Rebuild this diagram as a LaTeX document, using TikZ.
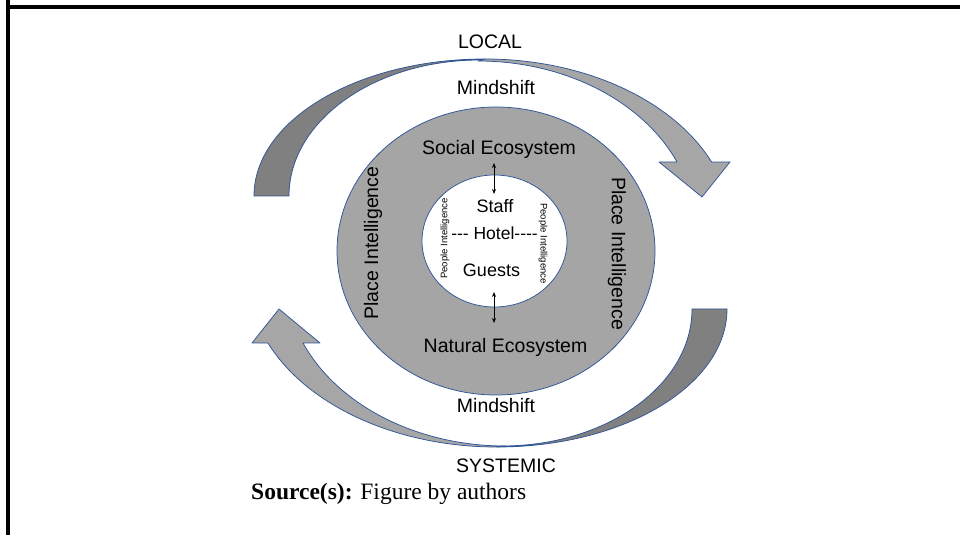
\documentclass[tikz,border=0pt]{standalone}
\usepackage{fontspec}
\setmainfont{Liberation Sans}
\newfontfamily\srcfont{Liberation Serif}
\usetikzlibrary{arrows.meta,shapes.geometric}
\definecolor{lightg}{HTML}{A6A6A6}
\definecolor{darkg}{HTML}{808080}
\definecolor{ringg}{HTML}{A5A5A5}
\definecolor{edgeblue}{RGB}{47,85,151}
\tikzset{
  shapeedge/.style={draw=edgeblue, line width=0.75pt, line join=round},
  biglabel/.style={font=\fontsize{19.5}{22}\selectfont, inner sep=0pt},
  innerlabel/.style={font=\fontsize{18}{21}\selectfont, inner sep=0pt},
  smalllabel/.style={font=\fontsize{9.5}{11}\selectfont, inner sep=0pt},
  dblarrow/.style={line width=1pt, {Stealth[length=5pt,width=4pt]}-{Stealth[length=5pt,width=4pt]}}
}
\begin{document}
\begin{tikzpicture}[x=1pt,y=1pt]
\useasboundingbox (0,0) rectangle (960,535);
% frame
\draw[line width=4pt] (8,535) -- (8,528) -- (960,528);
\draw[line width=4pt] (8,530) -- (8,0);

% top curved arrow (LOCAL)
\path[shapeedge, fill=darkg] (254,339) arc[start angle=180, end angle=90, x radius=231, y radius=137]
  -- (480,475) arc[start angle=90, end angle=180, x radius=191, y radius=136] -- cycle;
\path[shapeedge, fill=lightg] (485,476) arc[start angle=90, end angle=23.43, x radius=247, y radius=171]
  -- (730,373) -- (702,338) -- (659,373) -- (677,373)
  arc[start angle=23.73, end angle=90, x radius=217.4, y radius=169] -- cycle;

% bottom curved arrow (SYSTEMIC)
\path[shapeedge, fill=darkg] (727,226) arc[start angle=0, end angle=-90, x radius=230, y radius=138]
  -- (502,89) arc[start angle=-90, end angle=0, x radius=190, y radius=137] -- cycle;
\path[shapeedge, fill=lightg] (497,88) arc[start angle=270, end angle=203.07, x radius=249, y radius=171]
  -- (252,192) -- (279,226) -- (320,192) -- (303,192)
  arc[start angle=203.21, end angle=270, x radius=220, y radius=170] -- cycle;

% rings
\node[shapeedge, fill=ringg, ellipse, minimum width=318pt, minimum height=288pt, inner sep=0pt] (ring) at (496,284) {};
\node[shapeedge, fill=white, ellipse, minimum width=145pt, minimum height=132pt, inner sep=0pt] (hotelring) at (494.5,294) {};

% labels
\node[biglabel, anchor=base] (local) at (490,486) {LOCAL};
\node[biglabel, anchor=base] (mindtop) at (496,440) {Mindshift};
\node[biglabel, anchor=base] (social) at (499,380) {Social Ecosystem};
\node[innerlabel, anchor=base] (staff) at (495,322) {Staff};
\node[innerlabel, font=\fontsize{17.5}{20}\selectfont, anchor=base] (hotel) at (494.5,295) {-{}-{}- Hotel-{}-{}-{}-};
\node[innerlabel, anchor=base] (guests) at (491.5,258) {Guests};
\node[biglabel, anchor=base] (natural) at (505.5,182) {Natural Ecosystem};
\node[biglabel, anchor=base] (mindbot) at (496,122) {Mindshift};
\node[biglabel, anchor=base] (systemic) at (506,62) {SYSTEMIC};
\node[anchor=base west, inner sep=0pt, font=\srcfont\fontsize{23.5}{26}\selectfont] (source) at (251,35) {\textbf{Source(s):} Figure by authors};

\node[biglabel, rotate=90] (placeL) at (373,292) {Place Intelligence};
\node[biglabel, rotate=-90] (placeR) at (617,281.5) {Place Intelligence};
\node[smalllabel, rotate=90] (peopleL) at (445,296.5) {People Intelligence};
\node[smalllabel, rotate=-90] (peopleR) at (543,291.5) {People Intelligence};

% double arrows
\coordinate (upA) at (494,372);
\coordinate (upB) at (494,341);
\coordinate (loA) at (494,243);
\coordinate (loB) at (494,212);
\draw[dblarrow] (upA) -- (upB);
\draw[dblarrow] (loA) -- (loB);
\end{tikzpicture}
\end{document}
